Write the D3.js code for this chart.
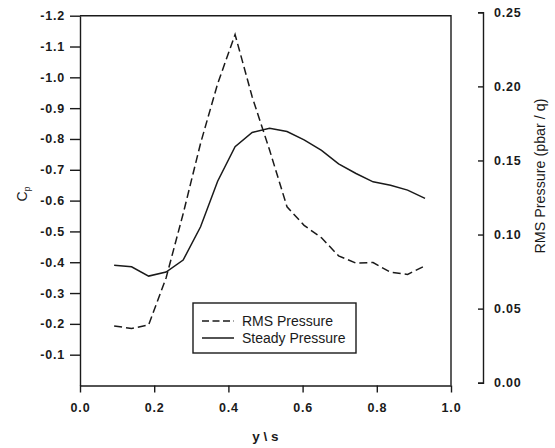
<!DOCTYPE html>
<html>
<head>
<meta charset="utf-8">
<script src="https://cdn.jsdelivr.net/npm/d3@7"></script>
<style>
  html, body { margin: 0; padding: 0; background: #fff; }
  svg { display: block; }
  text { font-family: "Liberation Sans", Arial, sans-serif; fill: #1a1a1a; }
</style>
</head>
<body>
<svg id="chart" width="555" height="448"></svg>
<script>
// ---- data ----
const positions = [0.092, 0.139, 0.185, 0.232, 0.278, 0.325, 0.371, 0.418, 0.464, 0.511,
                   0.558, 0.604, 0.651, 0.697, 0.744, 0.790, 0.837, 0.883, 0.930];
const steadyCp = [-0.390, -0.385, -0.355, -0.368, -0.407, -0.515, -0.663, -0.775, -0.821, -0.835,
                  -0.824, -0.797, -0.763, -0.719, -0.688, -0.661, -0.650, -0.634, -0.607];
const rmsPressure = [0.0383, 0.0366, 0.0390, 0.0707, 0.114, 0.1616, 0.2018, 0.235, 0.193, 0.157,
                     0.1187, 0.1062, 0.0978, 0.0856, 0.0807, 0.0811, 0.0745, 0.0731, 0.0789];
const xTicks = [0, 0.2, 0.4, 0.6, 0.8, 1.0];
const cpTicks = [-1.2, -1.1, -1.0, -0.9, -0.8, -0.7, -0.6, -0.5, -0.4, -0.3, -0.2, -0.1];
const rmsTicks = [0, 0.05, 0.10, 0.15, 0.20, 0.25];
const legendLabels = ["RMS Pressure", "Steady Pressure"];

// ---- layout ----
const svg = d3.select("#chart");
const x = d3.scaleLinear().domain([0, 1]).range([80, 451]);
const yL = d3.scaleLinear().domain([0, -1.2]).range([385.5, 15.7]);
const yR = d3.scaleLinear().domain([0, 0.25]).range([382.7, 12.3]);
const ink = "#1a1a1a";

function styleAxis(g) {
  g.selectAll("path, line").attr("stroke", ink).attr("stroke-width", 1.4);
  g.selectAll("text")
    .attr("font-size", 12.5)
    .attr("font-weight", "bold")
    .attr("letter-spacing", 0.8)
    .attr("font-family", '"Liberation Sans", Arial, sans-serif')
    .attr("fill", ink);
}

// plot box (top and right)
svg.append("path")
  .attr("d", `M${x(0)},${yL(-1.2)}H${x(1)}V${yL(0)}`)
  .attr("fill", "none").attr("stroke", ink).attr("stroke-width", 1.4);

// left axis
const gL = svg.append("g").attr("transform", `translate(${x(0)},0)`)
  .call(d3.axisLeft(yL).tickValues(cpTicks).tickSize(10).tickSizeOuter(0).tickPadding(5)
        .tickFormat(d => d.toFixed(1)));
styleAxis(gL);

// bottom axis
const gB = svg.append("g").attr("transform", `translate(0,${yL(0)})`)
  .call(d3.axisBottom(x).tickValues(xTicks).tickSize(7).tickSizeOuter(0).tickPadding(11)
        .tickFormat(d => d.toFixed(1)));
styleAxis(gB);

// right axis
const gR = svg.append("g").attr("transform", "translate(483,0)")
  .call(d3.axisRight(yR).tickValues(rmsTicks).tickSize(-5).tickPadding(11)
        .tickFormat(d => d.toFixed(2)));
styleAxis(gR);

// axis titles
svg.append("text").attr("x", x(0.5)).attr("y", 441).attr("text-anchor", "middle")
  .attr("font-size", 13.5).attr("font-weight", "bold").text("y \\ s");

const cp = svg.append("text").attr("transform", "translate(27,194) rotate(-90)")
  .attr("text-anchor", "middle").attr("font-size", 14);
cp.append("tspan").text("C");
cp.append("tspan").attr("font-size", 8.5).attr("dy", 3).text("p");

svg.append("text").attr("transform", "translate(545,176) rotate(-90)")
  .attr("text-anchor", "middle").attr("font-size", 14.3).text("RMS Pressure (pbar / q)");

// curves
const steadyLine = d3.line().x((d, i) => x(positions[i])).y(d => yL(d));
const rmsLine = d3.line().x((d, i) => x(positions[i])).y(d => yR(d));

svg.append("path").datum(rmsPressure).attr("d", rmsLine)
  .attr("fill", "none").attr("stroke", ink).attr("stroke-width", 1.5)
  .attr("stroke-dasharray", "8,4");
svg.append("path").datum(steadyCp).attr("d", steadyLine)
  .attr("fill", "none").attr("stroke", ink).attr("stroke-width", 1.5);

// legend
const lg = svg.append("g");
lg.append("rect").attr("x", 193).attr("y", 303).attr("width", 163).attr("height", 50)
  .attr("fill", "#fff").attr("stroke", ink).attr("stroke-width", 1.4);
legendLabels.forEach((lab, i) => {
  const yy = 321 + i * 17;
  lg.append("line").attr("x1", 202).attr("x2", 234).attr("y1", yy).attr("y2", yy)
    .attr("stroke", ink).attr("stroke-width", 1.5)
    .attr("stroke-dasharray", i === 0 ? "7,3.5" : null);
  lg.append("text").attr("x", 242).attr("y", yy + 5).attr("font-size", 14).text(lab);
});
</script>
</body>
</html>
